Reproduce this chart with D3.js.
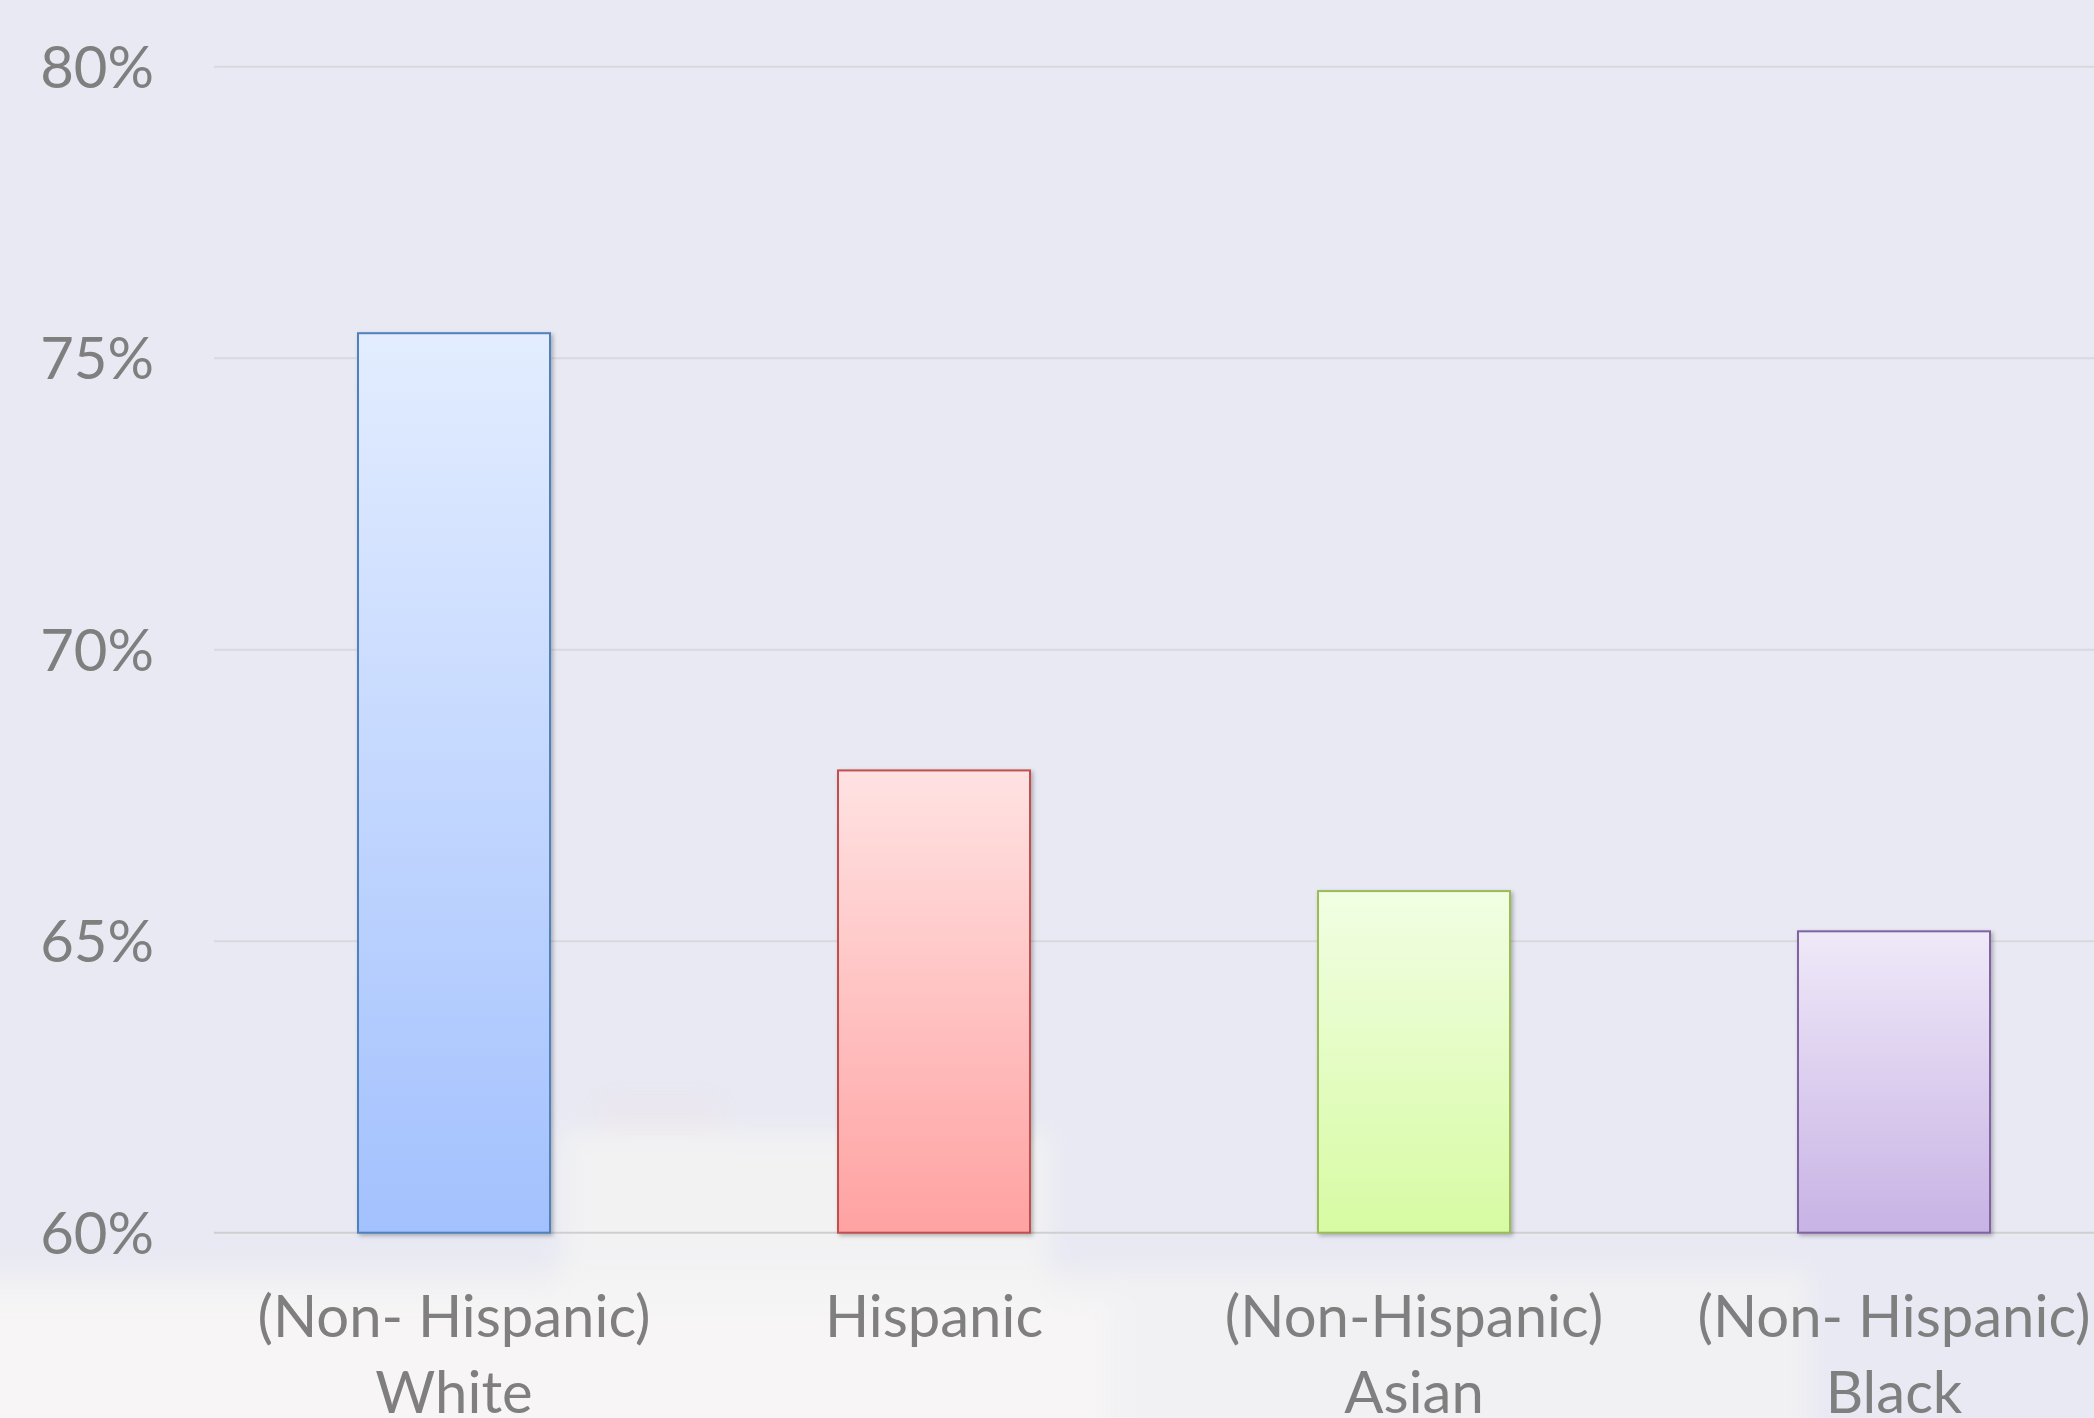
<!DOCTYPE html>
<html><head><meta charset="utf-8">
<script src="https://cdn.jsdelivr.net/npm/d3@7"></script>
<style>
html,body{margin:0;padding:0;background:#e8e9f3;overflow:hidden}
svg{display:block}
text{font-family:Lato,"Open Sans",sans-serif;fill:#7f7f7f}
</style></head><body>
<script>
const categories = [["(Non- Hispanic)","White"],["Hispanic"],["(Non-Hispanic)","Asian"],["(Non- Hispanic)","Black"]];
const values = [75.43, 67.93, 65.86, 65.17];
const yTicks = [60, 65, 70, 75, 80];
const strokeColors = ["#4f81bd","#c0504d","#9bbb59","#8064a2"];
const topColors = ["#e3edff","#ffe2e2","#f1fee3","#efe9f8"];
const bottomColors = ["#a3c1fe","#ffa2a2","#d7fba3","#c8b3e5"];

const W = 2094, H = 1418;
const svg = d3.select("body").append("svg").attr("width", W).attr("height", H);
const defs = svg.append("defs");

// background
svg.append("rect").attr("width", W).attr("height", H).attr("fill", "#e8e9f3");
const blur = defs.append("filter").attr("id","blur").attr("x","-20%").attr("y","-20%").attr("width","140%").attr("height","140%");
blur.append("feGaussianBlur").attr("stdDeviation", 12);
const bg = svg.append("g").attr("filter","url(#blur)");
bg.append("rect").attr("x",-40).attr("y",1270).attr("width",1850).attr("height",200).attr("fill","#f4f3f3").attr("opacity",0.75);
bg.append("rect").attr("x",-40).attr("y",1300).attr("width",1150).attr("height",160).attr("fill","#f7f6f5").attr("opacity",0.8);
bg.append("rect").attr("x",560).attr("y",1130).attr("width",490).attr("height",170).attr("fill","#f4f4f3").attr("opacity",0.8);
bg.append("rect").attr("x",600).attr("y",1100).attr("width",120).attr("height",30).attr("fill","#f0e4ea").attr("opacity",0.5);

const x = d3.scaleBand().domain(d3.range(categories.length)).range([214, 2134]).paddingInner(0.6).paddingOuter(0.3);
const y = d3.scaleLinear().domain([60, 80]).range([1232.7, 66.8]);

// gridlines
svg.append("g").selectAll("line").data(yTicks).join("line")
  .attr("x1", 214).attr("x2", W)
  .attr("y1", d => y(d)).attr("y2", d => y(d))
  .attr("stroke", d => d === 60 ? "#cfcfd2" : "#d8d9dd").attr("stroke-width", 2);

// y labels
svg.append("g").selectAll("text").data(yTicks).join("text")
  .attr("x", 154).attr("y", d => y(d)).attr("dy", 21)
  .attr("text-anchor","end").attr("font-size", 58)
  .text(d => d + "%");

// gradients
values.forEach((v, i) => {
  const g = defs.append("linearGradient").attr("id","g"+i).attr("x1",0).attr("y1",0).attr("x2",0).attr("y2",1);
  g.append("stop").attr("offset","0%").attr("stop-color", topColors[i]);
  g.append("stop").attr("offset","100%").attr("stop-color", bottomColors[i]);
});
const sh = defs.append("filter").attr("id","shadow").attr("x","-10%").attr("y","-10%").attr("width","130%").attr("height","130%");
sh.append("feDropShadow").attr("dx",2).attr("dy",2).attr("stdDeviation",2).attr("flood-color","#000").attr("flood-opacity",0.28);

// bars
svg.append("g").selectAll("rect").data(values).join("rect")
  .attr("x", (d,i) => x(i)).attr("width", x.bandwidth())
  .attr("y", d => y(d)).attr("height", d => y(60) - y(d))
  .attr("fill", (d,i) => `url(#g${i})`)
  .attr("stroke", (d,i) => strokeColors[i]).attr("stroke-width", 2)
  .attr("filter","url(#shadow)");

// x labels
const xl = svg.append("g").selectAll("text").data(categories).join("text")
  .attr("x", (d,i) => x(i) + x.bandwidth()/2).attr("y", 1337)
  .attr("text-anchor","middle").attr("font-size", 58);
xl.selectAll("tspan").data(d => d).join("tspan")
  .attr("x", function(){ return this.parentNode.getAttribute("x"); })
  .attr("dy", (d,j) => j === 0 ? 0 : 76)
  .text(d => d);
</script>
</body></html>
